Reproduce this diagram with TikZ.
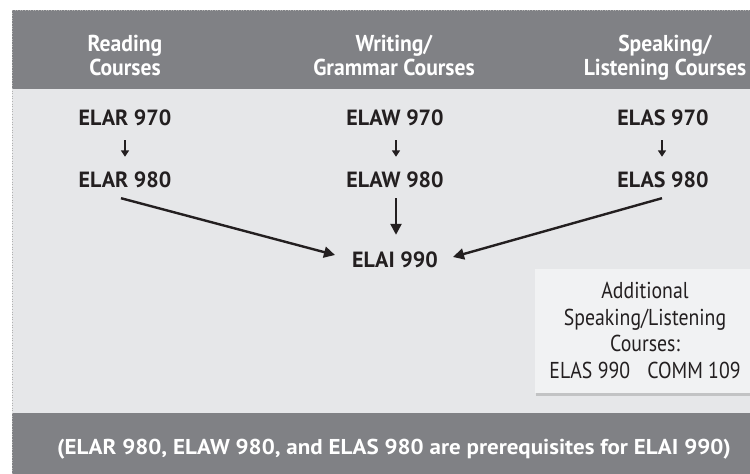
\documentclass[tikz,border=0pt]{standalone}
\usepackage{fontspec}
\setmainfont{PT Sans}
\newfontfamily\headfont[FakeStretch=0.94]{PT Sans}
\newfontfamily\boxfont[FakeStretch=0.86]{PT Sans}
\newfontfamily\footfont[FakeStretch=1.07]{PT Sans}
\usetikzlibrary{arrows.meta,calc,shadows}
\definecolor{bandgray}{HTML}{808185}
\definecolor{bodygray}{HTML}{E6E7E9}
\definecolor{boxgray}{HTML}{F1F2F3}
\definecolor{ink}{HTML}{231F20}
\begin{document}
\begin{tikzpicture}[x=1pt,y=-1pt,
  header/.style={text=white,font=\headfont\bfseries\fontsize{23}{23.5}\selectfont,align=center,inner sep=0pt,anchor=base},
  course/.style={text=ink,font=\bfseries\fontsize{22}{24}\selectfont,inner sep=0pt,text height=15pt,text depth=0pt},
  smallarrow/.style={draw=ink,line width=2.2pt,-{Triangle[length=6.5pt,width=8pt]}},
  bigarrow/.style={draw=ink,line width=2.4pt,-{Triangle[length=11pt,width=11pt]}},
  infobox/.style={fill=boxgray,drop shadow={shadow xshift=1pt,shadow yshift=-3pt,opacity=0.35}},
  boxtext/.style={text=ink,font=\boxfont\fontsize{23}{26.5}\selectfont,align=center,inner sep=0pt,anchor=base},
  foot/.style={text=white,font=\footfont\bfseries\fontsize{21.5}{23}\selectfont,inner sep=0pt,anchor=base}]
\useasboundingbox (0,0) rectangle (750,474);
\fill[white] (0,0) rectangle (750,474);
\begin{scope}
\clip (12,10) rectangle (750,474);
\fill[bodygray] (12,10) rectangle (750,474);
\fill[bandgray] (12,10) rectangle (750,89);
\fill[bandgray] (12,413) rectangle (750,474);
\path[infobox] (535,269) rectangle (770,393);
\end{scope}
\draw[gray!60,line width=0.6pt,dotted] (12.3,10) -- (12.3,474);
\draw[gray!60,line width=0.6pt,dotted] (12,10.3) -- (750,10.3);
% headers (anchor base = baseline of the last line)
\node[header] (hr) at (125,75) {Reading\\Courses};
\node[header] (hw) at (394,75) {Writing/\\Grammar Courses};
\node[header] (hs) at (665,75) {Speaking/\\Listening Courses};
% courses
\node[course] (r1) at (125,117.5) {ELAR 970};
\node[course] (r2) at (125,180) {ELAR 980};
\node[course] (w1) at (395,117.5) {ELAW 970};
\node[course] (w2) at (395,180) {ELAW 980};
\node[course] (s1) at (663,117.5) {ELAS 970};
\node[course] (s2) at (663,180) {ELAS 980};
\node[course] (i) at (395,260) {ELAI 990};
% arrows
\draw[smallarrow] ($(r1.south)+(0,15)$) -- ($(r2.north)+(0,-15.5)$);
\draw[smallarrow] ($(w1.south)+(1,15)$) -- ($(w2.north)+(1,-15.5)$);
\draw[smallarrow] ($(s1.south)+(-1,15)$) -- ($(s2.north)+(-1,-15.5)$);
\draw[bigarrow] ($(w2.south)+(1,10.5)$) -- ($(i.north)+(1,-17.5)$);
\draw[bigarrow] ($(r2.south)+(-4,10.5)$) -- ($(i.west)+(-17,-5)$);
\draw[bigarrow] ($(s2.south)+(-1,10.5)$) -- ($(i.east)+(15,-3)$);
% box
\node[boxtext] (extra) at (645,378) {Additional\\Speaking/Listening\\Courses:\\ELAS 990\hspace{0.75em}COMM 109};
% footer
\node[foot] (note) at (394,454) {(ELAR 980, ELAW 980, and ELAS 980 are prerequisites for ELAI 990)};
\end{tikzpicture}
\end{document}
